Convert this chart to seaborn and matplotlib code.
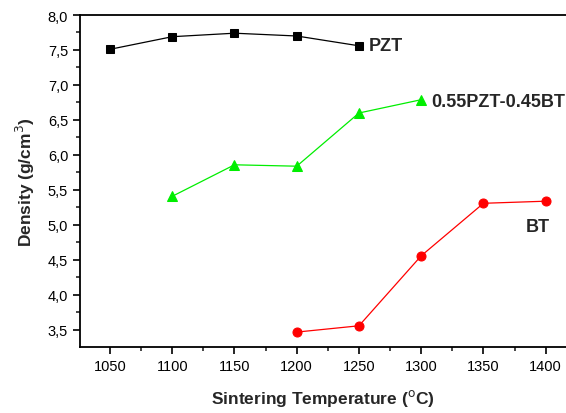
import matplotlib
matplotlib.use("Agg")
import matplotlib.pyplot as plt
import seaborn as sns
import pandas as pd
from matplotlib.ticker import MultipleLocator, FuncFormatter

sns.set_style("ticks")
plt.rcParams['font.family'] = ['Liberation Sans', 'DejaVu Sans']

pzt_temp = [1050, 1100, 1150, 1200, 1250]
pzt_density = [7.51, 7.69, 7.74, 7.70, 7.56]
mix_temp = [1100, 1150, 1200, 1250, 1300]
mix_density = [5.41, 5.86, 5.84, 6.60, 6.79]
bt_temp = [1200, 1250, 1300, 1350, 1400]
bt_density = [3.47, 3.56, 4.56, 5.31, 5.34]
x_ticks = [1050, 1100, 1150, 1200, 1250, 1300, 1350, 1400]

fig = plt.figure(figsize=(5.66, 4.14), dpi=100)
ax = fig.add_axes([80/566, 1-348/414, 1-80/566, (348-16)/414])

sns.lineplot(x=pzt_temp, y=pzt_density, ax=ax, color='black', marker='s',
             markersize=6, markeredgecolor='black', linewidth=0.9)
sns.lineplot(x=mix_temp, y=mix_density, ax=ax, color='#00ee00', marker='^',
             markersize=7, markeredgecolor='#00ee00', linewidth=0.9)
sns.lineplot(x=bt_temp, y=bt_density, ax=ax, color='red', marker='o',
             markersize=6.5, markeredgecolor='red', linewidth=0.9)

ax.set_xlim(1025.9, 1416.3)
ax.set_ylim(3.257, 8.0)
ax.set_xticks(x_ticks)
ax.xaxis.set_minor_locator(MultipleLocator(25))
ax.yaxis.set_major_locator(MultipleLocator(0.5))
ax.yaxis.set_minor_locator(MultipleLocator(0.25))
ax.yaxis.set_major_formatter(FuncFormatter(lambda v, p: f"{v:.1f}".replace('.', ',')))
ax.tick_params(axis='both', which='major', direction='out', length=5, width=1.2,
               labelsize=10.5, colors='black')
ax.tick_params(axis='both', which='minor', direction='out', length=3, width=1.2)
for s in ['left', 'bottom', 'top']:
    ax.spines[s].set_linewidth(1.3)
    ax.spines[s].set_color('black')
ax.spines['right'].set_visible(False)
ax.grid(False)

ax.set_xlabel('Sintering Temperature ($^{\\mathrm{o}}$C)', fontsize=12.5, fontweight='bold', labelpad=10)
ax.set_ylabel('Density (g/cm$^{\\mathrm{3}}$)', fontsize=12.5, fontweight='bold', labelpad=8)

ax.text(1258, 7.56, 'PZT', fontsize=13, fontweight='bold', va='center', ha='left')
ax.text(1308, 6.77, '0.55PZT-0.45BT', fontsize=13, fontweight='bold', va='center', ha='left')
ax.text(1384, 4.98, 'BT', fontsize=13, fontweight='bold', va='center', ha='left')

fig.savefig('out.png', dpi=100)
